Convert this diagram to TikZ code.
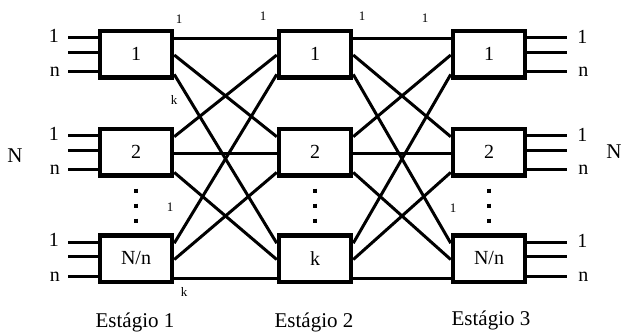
\documentclass[tikz,border=0pt]{standalone}
\usepackage{fontspec}
\setmainfont{Liberation Serif}
\usetikzlibrary{calc}

\tikzset{
  switchbox/.style={draw,line width=4.5pt,minimum width=72pt,minimum height=46.5pt,inner sep=0pt,font=\fontsize{20}{20}\selectfont},
  link/.style={line width=3pt},
  lbl/.style={font=\fontsize{20}{20}\selectfont,inner sep=0pt},
  caption/.style={font=\fontsize{21}{21}\selectfont,inner sep=0pt,anchor=base},
  small/.style={font=\fontsize{13}{13}\selectfont,inner sep=0pt}
}

\begin{document}
\begin{tikzpicture}[x=1pt,y=-1pt]
\useasboundingbox (0,0) rectangle (622,332);
% the switch boxes of the three stages
\foreach \s/\x in {1/136,2/315,3/489}{
  \node[switchbox] (s\s-1) at (\x,54) {1};
  \node[switchbox] (s\s-2) at (\x,152) {2};
}
\node[switchbox] (s1-3) at (136,258.5) {N/n};
\node[switchbox] (s2-3) at (315,258.5) {k};
\node[switchbox] (s3-3) at (489,258.5) {N/n};

% ports on the sides of the boxes
\foreach \s in {1,2,3}
  \foreach \r in {1,2,3}
    \foreach \p/\f in {1/0.2,2/0.52,3/0.9}{
      \coordinate (s\s-\r-o\p) at ($(s\s-\r.north east)!\f!(s\s-\r.south east)$);
      \coordinate (s\s-\r-i\p) at ($(s\s-\r.north west)!\f!(s\s-\r.south west)$);
    }

% links between the stages
\foreach \s/\t in {1/2,2/3}
  \foreach \i in {1,2,3}
    \foreach \j in {1,2,3}
      \draw[link] (s\s-\i-o\j) -- (s\t-\j-i\i);

% inputs and outputs
\foreach \r in {1,2,3}{
  \foreach \p/\f in {1/0.18,2/0.47,3/0.85}{
    \coordinate (in\r\p) at ($(s1-\r.north west)!\f!(s1-\r.south west)$);
    \draw[link] (in\r\p) -- ++(-30,0) coordinate (inend\r\p);
    \coordinate (out\r\p) at ($(s3-\r.north east)!\f!(s3-\r.south east)$);
    \draw[link] (out\r\p) -- ++(40,0) coordinate (outend\r\p);
  }
  \node[lbl] (inone\r) at ($(inend\r1)+(-14,-2)$) {1};
  \node[lbl] (inn\r) at ($(inend\r3)+(-13,0)$) {n};
  \node[lbl] (outone\r) at ($(outend\r1)+(15,-1)$) {1};
  \node[lbl] (outn\r) at ($(outend\r3)+(16,0)$) {n};
}

% dots between the boxes
\foreach \s in {1,2,3}
  \draw[line width=3.5pt,dash pattern=on 4pt off 11pt]
    ($(s\s-2.south)+(0,11)$) -- ($(s\s-3.north)+(0,-9)$);

\node[lbl,font=\fontsize{21}{21}\selectfont] (nleft) at (15,156) {N};
\node[lbl,font=\fontsize{21}{21}\selectfont] (nright) at (614,152) {N};

% small port labels
\node[small] (p1) at (179,19) {1};
\node[small] (p2) at (263,16) {1};
\node[small] (p3) at (362,16) {1};
\node[small] (p4) at (425,18) {1};
\node[small] (p5) at (174,100) {k};
\node[small] (p6) at (170,207) {1};
\node[small] (p7) at (184,292) {k};
\node[small] (p8) at (453,208) {1};

\node[caption] (c1) at (135,327) {Estágio 1};
\node[caption] (c2) at (314,327.5) {Estágio 2};
\node[caption] (c3) at (491,325) {Estágio 3};
\end{tikzpicture}
\end{document}
